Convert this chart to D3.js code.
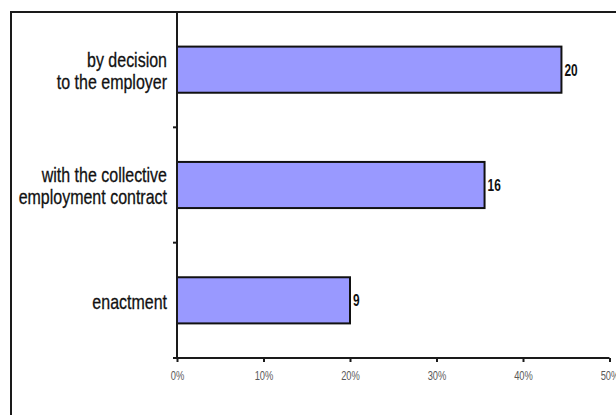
<!DOCTYPE html>
<html>
<head>
<meta charset="utf-8">
<script src="https://cdn.jsdelivr.net/npm/d3@7"></script>
<style>
  html, body { margin: 0; padding: 0; background: #fff; }
  svg { display: block; }
</style>
</head>
<body>
<svg id="chart" width="616" height="415"></svg>
<script>
// Ways of setting the working time regime (number of answers, out of all respondents)
const categories = [
  ["by decision", "to the employer"],
  ["with the collective", "employment contract"],
  ["enactment"]
];
const answers = [20, 16, 9];
const respondents = 45;
const tickValues = [0, 0.1, 0.2, 0.3, 0.4, 0.5];
const tickLabels = ["0%", "10%", "20%", "30%", "40%", "50%"];

const svg = d3.select("#chart");
const plot = { left: 177, right: 609.5, top: 12, bottom: 358 };

// outer chart frame (runs past the right and bottom edges)
svg.append("rect")
  .attr("x", 11).attr("y", 12)
  .attr("width", 660).attr("height", 460)
  .attr("fill", "#fff")
  .attr("stroke", "#1a1a1a").attr("stroke-width", 2);

const x = d3.scaleLinear()
  .domain([tickValues[0], tickValues[tickValues.length - 1]])
  .range([plot.left, plot.right]);

const y = d3.scaleBand()
  .domain(d3.range(categories.length))
  .range([plot.top, plot.bottom])
  .paddingInner(0.6)
  .paddingOuter(0.3);

const rows = categories.map((c, i) => ({
  lines: c, count: answers[i], share: answers[i] / respondents, i
}));

// bars
svg.append("g").selectAll("rect")
  .data(rows).join("rect")
  .attr("x", x(0))
  .attr("y", d => y(d.i))
  .attr("width", d => x(d.share) - x(0))
  .attr("height", y.bandwidth())
  .attr("fill", "#9999ff")
  .attr("stroke", "#111")
  .attr("stroke-width", 2);

// value labels at the bar ends
svg.append("g").selectAll("text")
  .data(rows).join("text")
  .attr("transform", d => `translate(${x(d.share) + 3},${y(d.i) + y.bandwidth() / 2}) scale(0.7,1)`)
  .attr("dy", "0.36em")
  .attr("font-family", "Liberation Sans, Arial, sans-serif")
  .attr("font-weight", "bold")
  .attr("font-size", 17)
  .attr("fill", "#111")
  .text(d => d.count);

// category labels, right-aligned next to the axis
const lineGap = 22;
const labels = svg.append("g").selectAll("g")
  .data(rows).join("g")
  .attr("transform", d => `translate(${plot.left - 10},${y(d.i) + y.bandwidth() / 2 + 1}) scale(0.78,1)`);
labels.selectAll("text")
  .data(d => d.lines.map((t, k) => ({ t, k, n: d.lines.length })))
  .join("text")
  .attr("y", d => (d.k - (d.n - 1) / 2) * lineGap)
  .attr("dy", "0.35em")
  .attr("text-anchor", "end")
  .attr("font-family", "Liberation Sans, Arial, sans-serif")
  .attr("font-size", 20.5)
  .attr("fill", "#111")
  .attr("stroke", "#111")
  .attr("stroke-width", 0.3)
  .text(d => d.t);

// category axis: ticks at the band boundaries
const yAxis = svg.append("g");
yAxis.append("line")
  .attr("x1", plot.left).attr("x2", plot.left)
  .attr("y1", plot.top).attr("y2", plot.bottom)
  .attr("stroke", "#1a1a1a").attr("stroke-width", 2);
const step = y.step();
yAxis.selectAll("line.tick")
  .data(d3.range(1, categories.length))
  .join("line").attr("class", "tick")
  .attr("x1", plot.left - 4).attr("x2", plot.left)
  .attr("y1", k => plot.top + k * step).attr("y2", k => plot.top + k * step)
  .attr("stroke", "#1a1a1a").attr("stroke-width", 2);

// value axis
const xAxis = svg.append("g")
  .attr("transform", `translate(0,${plot.bottom})`)
  .call(d3.axisBottom(x)
    .tickValues(tickValues)
    .tickFormat((d, i) => tickLabels[i])
    .tickSize(4)
    .tickSizeOuter(0)
    .tickPadding(9));
xAxis.select(".domain")
  .attr("d", `M${plot.left - 4},0H${plot.right}`)
  .attr("stroke", "#1a1a1a").attr("stroke-width", 2);
xAxis.selectAll(".tick line").attr("stroke", "#1a1a1a").attr("stroke-width", 2);
xAxis.selectAll(".tick text")
  .attr("font-family", "Liberation Sans, Arial, sans-serif")
  .attr("font-size", 13)
  .attr("fill", "#5a5a5a")
  .attr("transform", "scale(0.72,1)");
</script>
</body>
</html>
